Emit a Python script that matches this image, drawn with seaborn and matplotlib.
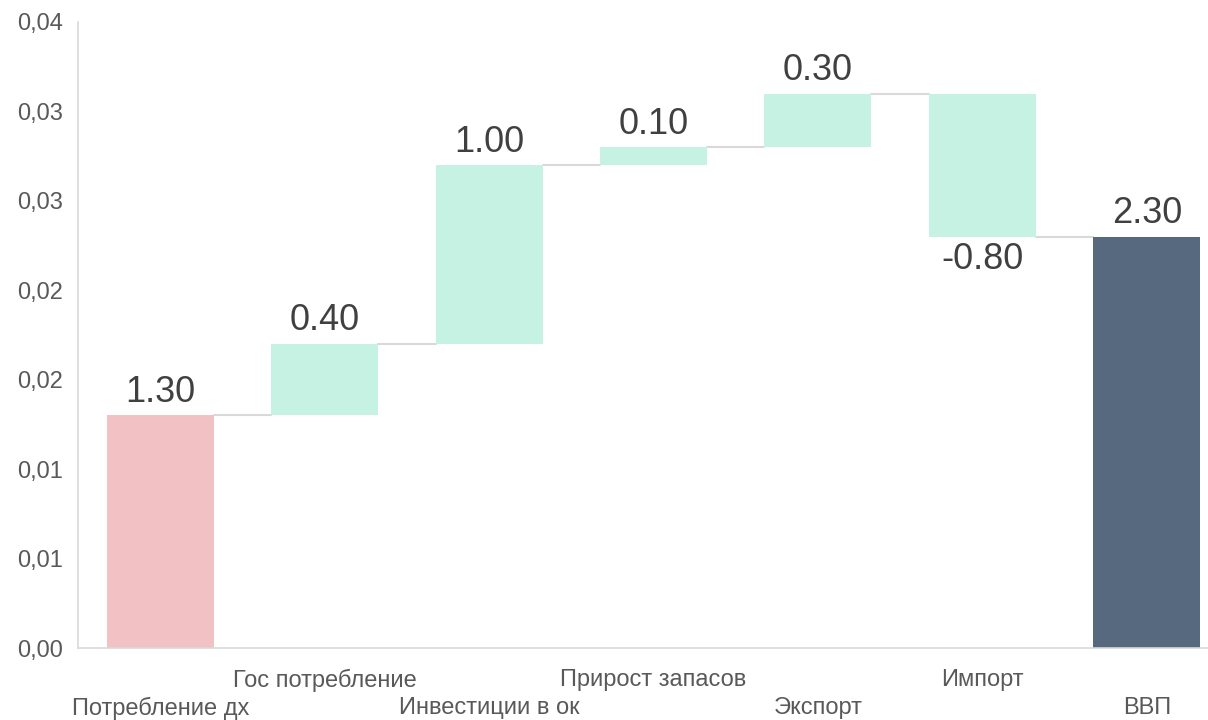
import matplotlib
matplotlib.use("Agg")
import matplotlib.pyplot as plt
import matplotlib.ticker as mticker
import seaborn as sns

categories = ["Потребление дх", "Гос потребление", "Инвестиции в ок",
              "Прирост запасов", "Экспорт", "Импорт", "ВВП"]
changes = [1.30, 0.40, 1.00, 0.10, 0.30, -0.80, 2.30]  # в процентных пунктах
kinds = ["start", "step", "step", "step", "step", "step", "total"]

colors = {"start": "#f2c1c3", "step": "#c5f2e3", "total": "#56697f"}

# расчёт каркаса водопада (в долях)
bottoms, tops = [], []
level = 0.0
for v, k in zip(changes, kinds):
    d = v / 100
    if k in ("start", "total"):
        b, t = 0.0, d
        level = d
    else:
        b, t = min(level, level + d), max(level, level + d)
        level = level + d
    bottoms.append(b)
    tops.append(t)

sns.set_style("white")
plt.rcParams["font.family"] = ["Liberation Sans", "DejaVu Sans"]

fig = plt.figure(figsize=(12.08, 7.2), dpi=100)
ax_h = 626 / 720
ax = fig.add_axes([78 / 1208, 0.1, 1151 / 1208, ax_h])

sns.barplot(x=categories, y=tops, hue=categories,
            palette=[colors[k] for k in kinds], legend=False,
            width=0.65, saturation=1, ax=ax)

# поднимаем плавающие столбцы
for p, b, t in zip(ax.patches, bottoms, tops):
    p.set_y(b)
    p.set_height(t - b)
    p.set_edgecolor("none")

# соединительные линии
for i in range(len(categories) - 1):
    lvl = tops[i] if changes[i] >= 0 else bottoms[i]
    ax.plot([i + 0.325, i + 1 - 0.325], [lvl, lvl], color="#d9d9d9", lw=1.5, zorder=0)

# подписи значений
for i, (v, b, t) in enumerate(zip(changes, bottoms, tops)):
    if v >= 0:
        ax.annotate(f"{v:.2f}", (i, t), xytext=(0, 4), textcoords="offset points",
                    ha="center", va="bottom", fontsize=26, color="#404040")
    else:
        ax.annotate(f"{v:.2f}", (i, b), xytext=(0, -4), textcoords="offset points",
                    ha="center", va="top", fontsize=26, color="#404040")

ax.set_xlim(-0.5, 6.5)
ax.set_ylim(0, 0.035)
ax.set_yticks([0, 0.005, 0.01, 0.015, 0.02, 0.025, 0.03, 0.035])
ax.yaxis.set_major_formatter(mticker.FuncFormatter(
    lambda v, pos: f"{v + 1e-9:.2f}".replace(".", ",")))

ax.set_xticks(range(len(categories)))
ax.set_xticklabels(categories)
ax.tick_params(axis="x", length=0, pad=15, labelsize=17, labelcolor="#595959")
ax.tick_params(axis="y", length=0, pad=11, labelsize=17, labelcolor="#595959")
# подписи в шахматном порядке: чётные ниже
for i, lbl in enumerate(ax.get_xticklabels()):
    if i % 2 == 0:
        lbl.set_y(-28 / (ax_h * 720))

ax.set_xlabel("")
ax.set_ylabel("")
for s in ["top", "right"]:
    ax.spines[s].set_visible(False)
for s in ["left", "bottom"]:
    ax.spines[s].set_color("#d9d9d9")
    ax.spines[s].set_linewidth(1.2)

fig.savefig("out.png", dpi=100)
